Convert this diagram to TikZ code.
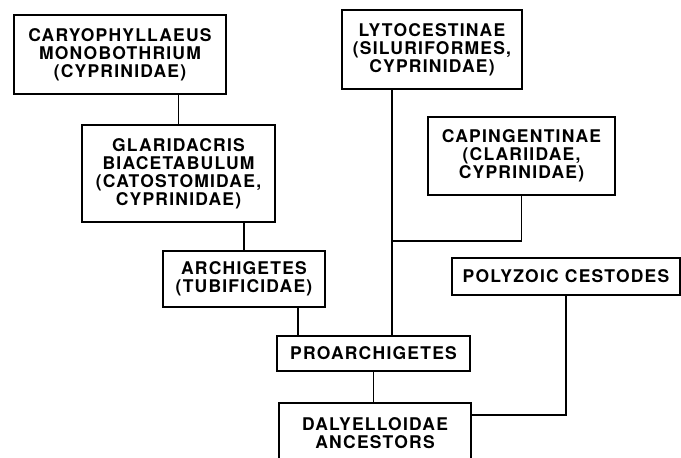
\documentclass[tikz,border=0pt]{standalone}
\usepackage{fontspec}
\setmainfont[LetterSpace=7]{TeX Gyre Heros}
\usepackage{tikz}

\begin{document}
\begin{tikzpicture}[x=1pt,y=-1pt,line width=1.9pt,
        box/.style={draw,align=center,inner sep=0pt,font=\fontsize{17.5}{18}\selectfont\bfseries}]
        \useasboundingbox (0,0) rectangle (681,458);
        \node[box,minimum width=212,minimum height=79](cary)at(120,54.5){CARYOPHYLLAEUS\\MONOBOTHRIUM\\(CYPRINIDAE)};
        \node[box,minimum width=193,minimum height=97](glar)at(178.5,173.5){GLARIDACRIS\\BIACETABULUM\\(CATOSTOMIDAE,\\CYPRINIDAE)};
        \node[box,minimum width=162,minimum height=56](arch)at(244,279){ARCHIGETES\\(TUBIFICIDAE)};
        \node[box,minimum width=193,minimum height=35](proarch)at(373.5,353.5){PROARCHIGETES};
        \node[box,minimum width=192,minimum height=60](daly)at(375,433){DALYELLOIDAE\\ANCESTORS};
        \node[box,minimum width=180,minimum height=79](lyto)at(432,49.5){LYTOCESTINAE\\(SILURIFORMES,\\CYPRINIDAE)};
        \node[box,minimum width=187,minimum height=78](caping)at(521.5,156){CAPINGENTINAE\\(CLARIIDAE,\\CYPRINIDAE)};
        \node[box,minimum width=228,minimum height=37](poly)at(566,276.5){POLYZOIC CESTODES};
        \draw(glar.north |- cary.south)--(glar.north);
        \draw(arch.north |- glar.south)--(arch.north);
        \draw([xshift=54pt]arch.south)--([xshift=54pt]arch.south |- proarch.north);
        \draw(proarch.south)--(proarch.south |- daly.north);
        \draw([xshift=-40pt]lyto.south)--([xshift=-40pt]lyto.south |- proarch.north);
        \draw(caping.south)--++(0,45)-|([xshift=-40pt]lyto.south);
        \draw(poly.south)|-([yshift=18pt]daly.east);
    \end{tikzpicture}
\end{document}
